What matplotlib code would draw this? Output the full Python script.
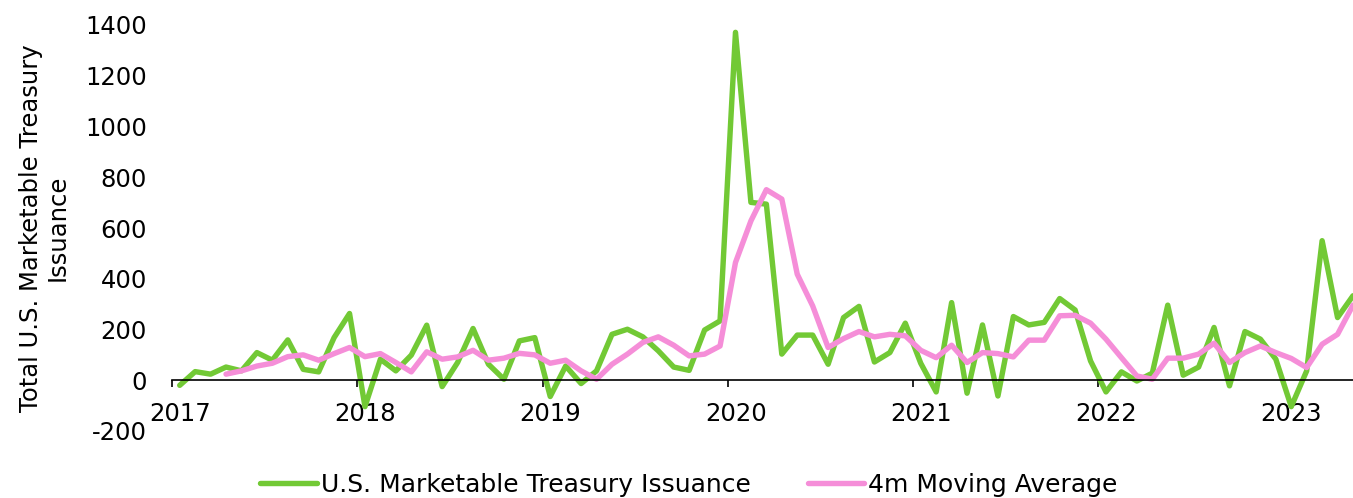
import numpy as np
import matplotlib
matplotlib.use('Agg')
import matplotlib.pyplot as plt
from matplotlib.transforms import ScaledTranslation

# monthly issuance, Jan 2017 .. May 2023
issuance = [
    -20, 34, 24, 52, 37, 109, 79, 159, 43, 33, 168, 263,          # 2017
    -104, 83, 37, 99, 217, -25, 70, 204, 63, 4, 155, 168,         # 2018
    -64, 56, -13, 37, 181, 201, 171, 116, 52, 39, 198, 234,       # 2019
    1371, 701, 694, 103, 178, 178, 63, 247, 291, 72, 109, 225,    # 2020
    67, -46, 306, -51, 218, -62, 251, 218, 228, 322, 277, 76,     # 2021
    -46, 33, -3, 28, 296, 20, 52, 208, -22, 192, 162, 83,         # 2022
    -104, 37, 550, 247, 333,                                      # 2023
]
# 4 month moving average, Apr 2017 .. May 2023
moving_avg = [
    24, 37, 56, 67, 93, 100, 79, 105, 129,
    93, 105, 70, 33, 112, 83, 92, 118, 79, 87, 106, 100,
    67, 79, 37, 4, 63, 103, 149, 171, 138, 96, 103, 135,
    464, 628, 751, 714, 418, 293, 129, 164, 192, 171, 181, 175,
    118, 89, 138, 70, 109, 105, 92, 158, 158, 254, 256, 225,
    162, 89, 17, 4, 87, 87, 103, 146, 70, 109, 135, 109,
    86, 50, 142, 181, 296,
]
years = [2017, 2018, 2019, 2020, 2021, 2022, 2023]
yticks = [-200, 0, 200, 400, 600, 800, 1000, 1200, 1400]

green = '#72c935'
pink = '#f58ed8'

# points sit mid-month, ticks on Jan 1
x_iss = 2017 + (np.arange(len(issuance)) + 0.5) / 12
x_ma = x_iss[len(issuance) - len(moving_avg):]

plt.rcParams['font.family'] = ['DejaVu Sans']

fig = plt.figure(figsize=(13.53, 4.98), dpi=100)
ax = fig.add_axes([172/1353, 1 - 431/498, 1181/1353, 406/498])

line_kw = dict(lw=3.9, solid_joinstyle='round', solid_capstyle='round', clip_on=False)
l1, = ax.plot(x_iss, issuance, color=green, label='U.S. Marketable Treasury Issuance', **line_kw)
l2, = ax.plot(x_ma, moving_avg, color=pink, label='4m Moving Average', **line_kw)

ax.set_xlim(2017, x_iss[-1])
ax.set_ylim(-200, 1400)

ax.spines['bottom'].set_position(('data', 0))
ax.spines['bottom'].set_linewidth(1.2)
for s in ['left', 'right', 'top']:
    ax.spines[s].set_visible(False)

ax.set_xticks(years)
ax.set_xticklabels([str(y) for y in years])
ax.set_yticks(yticks)
ax.set_yticklabels([str(v) for v in yticks])
ax.tick_params(axis='x', length=5, width=1.2, pad=11, labelsize=17.5)
ax.tick_params(axis='y', length=0, pad=18, labelsize=17.5)
for lab in ax.get_xticklabels():
    lab.set_transform(lab.get_transform() + ScaledTranslation(8/100, 0, fig.dpi_scale_trans))

ax.set_ylabel('Total U.S. Marketable Treasury\nIssuance', fontsize=17.5,
              linespacing=1.12)
ax.yaxis.set_label_coords(-0.087, 0.5)

fig.legend(handles=[l1, l2], loc='center', bbox_to_anchor=(689/1353, 13/498),
           ncol=2, frameon=False, handlelength=2.25, handletextpad=0.16,
           columnspacing=2.3, borderaxespad=0, fontsize=18)

fig.savefig('out.png', dpi=100)
